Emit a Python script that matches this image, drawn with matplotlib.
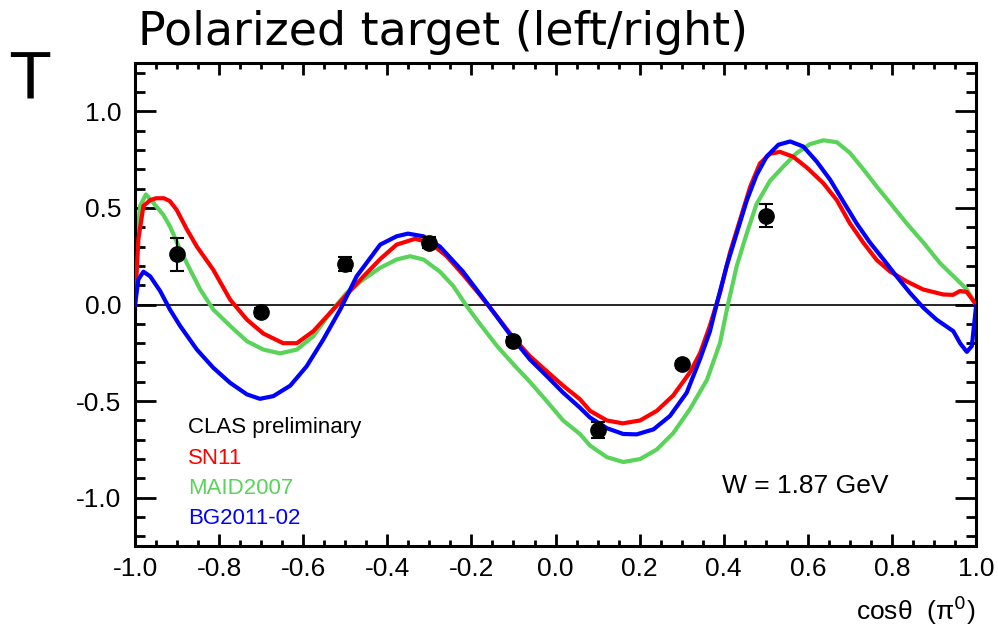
import numpy as np
import matplotlib
matplotlib.use('Agg')
import matplotlib.pyplot as plt
from matplotlib.ticker import MultipleLocator, FormatStrFormatter

plt.rcParams['font.family'] = ['Liberation Sans', 'DejaVu Sans']
plt.rcParams['axes.unicode_minus'] = False

# CLAS preliminary data points
clas_x = [-0.9, -0.7, -0.5, -0.3, -0.1, 0.1, 0.3, 0.5]
clas_y = [0.26, -0.04, 0.21, 0.32, -0.19, -0.65, -0.31, 0.46]
clas_err = [0.085, 0.02, 0.035, 0.03, 0.02, 0.04, 0.02, 0.06]

# SN11 curve
sn11_x = [-1.0, -0.992, -0.98, -0.964, -0.95, -0.931, -0.917, -0.901, -0.877, -0.853,
          -0.814, -0.774, -0.734, -0.695, -0.648, -0.615, -0.576, -0.536, -0.497, -0.457,
          -0.417, -0.378, -0.334, -0.298, -0.259, -0.22, -0.18, -0.14, -0.101, -0.061,
          -0.021, 0.018, 0.058, 0.082, 0.122, 0.16, 0.201, 0.241, 0.28, 0.32,
          0.344, 0.367, 0.391, 0.415, 0.439, 0.463, 0.486, 0.51, 0.534, 0.565,
          0.597, 0.636, 0.669, 0.70, 0.732, 0.764, 0.796, 0.835, 0.874, 0.922,
          0.945, 0.962, 0.978, 1.0]
sn11_y = [0.0, 0.34, 0.51, 0.54, 0.55, 0.55, 0.535, 0.49, 0.39, 0.30,
          0.18, 0.026, -0.078, -0.15, -0.20, -0.20, -0.138, -0.043, 0.05, 0.145,
          0.235, 0.31, 0.34, 0.32, 0.25, 0.155, 0.05, -0.06, -0.17, -0.267,
          -0.345, -0.42, -0.49, -0.55, -0.60, -0.615, -0.60, -0.55, -0.47, -0.35,
          -0.25, -0.11, 0.06, 0.27, 0.44, 0.61, 0.73, 0.78, 0.79, 0.765,
          0.71, 0.63, 0.54, 0.42, 0.32, 0.23, 0.17, 0.12, 0.078, 0.052,
          0.05, 0.07, 0.065, 0.0]

# MAID2007 curve
maid_x = [-1.0, -0.996, -0.988, -0.974, -0.956, -0.933, -0.917, -0.893, -0.869, -0.845,
          -0.814, -0.774, -0.734, -0.695, -0.655, -0.615, -0.576, -0.536, -0.497, -0.457,
          -0.417, -0.378, -0.346, -0.314, -0.275, -0.243, -0.211, -0.18, -0.139, -0.10,
          -0.061, -0.021, 0.018, 0.058, 0.082, 0.122, 0.161, 0.201, 0.241, 0.28,
          0.32, 0.36, 0.391, 0.41, 0.431, 0.455, 0.478, 0.51, 0.542, 0.574,
          0.605, 0.637, 0.669, 0.70, 0.732, 0.764, 0.796, 0.835, 0.875, 0.914,
          0.954, 0.978, 1.0]
maid_y = [0.0, 0.30, 0.51, 0.57, 0.525, 0.465, 0.405, 0.285, 0.18, 0.078,
          -0.026, -0.11, -0.19, -0.233, -0.253, -0.233, -0.164, -0.043, 0.06, 0.13,
          0.19, 0.233, 0.25, 0.233, 0.17, 0.095, -0.009, -0.10, -0.215, -0.31,
          -0.40, -0.50, -0.60, -0.67, -0.73, -0.79, -0.815, -0.80, -0.75, -0.665,
          -0.54, -0.39, -0.20, 0.0, 0.20, 0.37, 0.52, 0.64, 0.715, 0.785,
          0.83, 0.85, 0.84, 0.785, 0.70, 0.61, 0.525, 0.42, 0.32, 0.215,
          0.13, 0.078, 0.0]

# BG2011-02 curve
bg_x = [-1.0, -0.992, -0.98, -0.964, -0.94, -0.917, -0.893, -0.853, -0.814, -0.774,
        -0.734, -0.703, -0.671, -0.631, -0.592, -0.552, -0.512, -0.473, -0.417, -0.378,
        -0.351, -0.314, -0.275, -0.22, -0.164, -0.10, -0.061, -0.021, 0.018, 0.058,
        0.082, 0.122, 0.161, 0.193, 0.233, 0.272, 0.312, 0.344, 0.367, 0.383,
        0.407, 0.431, 0.455, 0.478, 0.502, 0.53, 0.558, 0.589, 0.621, 0.653,
        0.684, 0.716, 0.748, 0.78, 0.811, 0.843, 0.875, 0.906, 0.946, 0.962,
        0.978, 0.99, 1.0]
bg_y = [0.0, 0.13, 0.17, 0.146, 0.069, -0.026, -0.11, -0.233, -0.327, -0.405,
        -0.465, -0.488, -0.474, -0.42, -0.32, -0.18, -0.026, 0.146, 0.31, 0.353,
        0.367, 0.353, 0.30, 0.17, 0.009, -0.18, -0.284, -0.37, -0.456, -0.534,
        -0.585, -0.64, -0.67, -0.672, -0.646, -0.577, -0.456, -0.28, -0.14, 0.0,
        0.2, 0.37, 0.54, 0.67, 0.766, 0.827, 0.844, 0.818, 0.74, 0.646,
        0.534, 0.42, 0.32, 0.233, 0.146, 0.06, -0.017, -0.078, -0.138, -0.20,
        -0.245, -0.215, -0.01]

red = '#ff0000'
green = '#5ad35a'
blue = '#0000ff'

fig = plt.figure(figsize=(9.98, 6.32), dpi=100)
ax = fig.add_axes([0.1353, 0.136, 0.8427, 0.7643])

ax.axhline(0, color='black', lw=1.2, zorder=1)
ax.plot(maid_x, maid_y, color=green, lw=3, zorder=2, solid_joinstyle='round')
ax.plot(sn11_x, sn11_y, color=red, lw=3, zorder=3, solid_joinstyle='round')
ax.plot(bg_x, bg_y, color=blue, lw=3, zorder=4, solid_joinstyle='round')
ax.errorbar(clas_x, clas_y, yerr=clas_err, fmt='o', color='black', ms=11,
            elinewidth=1.5, capsize=5, capthick=1.5, zorder=5)

ax.set_xlim(-1.0, 1.0)
ax.set_ylim(-1.25, 1.25)
ax.xaxis.set_major_locator(MultipleLocator(0.2))
ax.xaxis.set_minor_locator(MultipleLocator(0.05))
ax.yaxis.set_major_locator(MultipleLocator(0.5))
ax.yaxis.set_minor_locator(MultipleLocator(0.1))
ax.xaxis.set_major_formatter(FormatStrFormatter('%.1f'))
ax.yaxis.set_major_formatter(FormatStrFormatter('%.1f'))

for s in ax.spines.values():
    s.set_linewidth(2.2)
ax.tick_params(axis='both', which='both', direction='in', top=True, right=True,
               width=2, labelsize=19)
ax.tick_params(axis='x', which='major', length=8.5, pad=8)
ax.tick_params(axis='x', which='minor', length=4.3)
ax.tick_params(axis='y', which='major', length=15, pad=10)
ax.tick_params(axis='y', which='minor', length=7)

# legend as coloured text
ax.text(-0.874, -0.636, 'CLAS preliminary', color='black', fontsize=16, va='center')
ax.text(-0.874, -0.796, 'SN11', color=red, fontsize=16, va='center')
ax.text(-0.874, -0.951, 'MAID2007', color=green, fontsize=16, va='center')
ax.text(-0.874, -1.106, 'BG2011-02', color=blue, fontsize=16, va='center')
ax.text(0.396, -0.94, 'W = 1.87 GeV', color='black', fontsize=19, va='center')

fig.text(0.138, 0.929, 'Polarized target (left/right)', fontsize=33,
         family='DejaVu Sans', ha='left', va='baseline')
fig.text(0.01, 0.843, 'T', fontsize=46, family='DejaVu Sans', fontweight='medium',
         ha='left', va='baseline')
fig.text(0.977, 0.008, 'cosθ  (π$^{0}$)', fontsize=19, ha='right', va='bottom')

fig.savefig('out.png', dpi=100)
